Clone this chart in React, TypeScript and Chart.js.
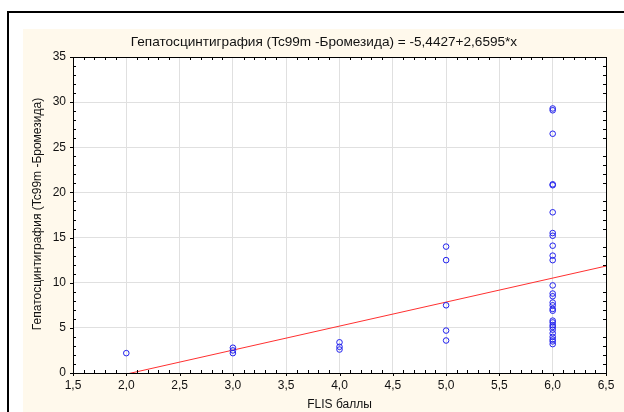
import React, { useEffect, useRef } from "react";
import { Chart, registerables } from "chart.js";

Chart.register(...registerables);

// ---- Data ----
const titleText = "Гепатосцинтиграфия (Tc99m -Бромезида) = -5,4427+2,6595*x";
const xAxisTitle = "FLIS баллы";
const yAxisTitle = "Гепатосцинтиграфия (Tc99m -Бромезида)";

const flisScores = [2, 3, 4, 5, 6];
const valuesAt2 = [2.2];
const valuesAt3 = [2.8, 2.5, 2.2];
const valuesAt4 = [3.4, 2.9, 2.6];
const valuesAt5 = [14.0, 12.5, 7.5, 4.7, 3.6];
const valuesAt6 = [
  29.3, 29.1, 26.5, 20.9, 20.8, 17.8, 15.5, 15.2, 14.1, 13.0, 12.5, 9.7, 8.8, 8.5,
  7.8, 7.5, 7.1, 6.9, 5.8, 5.6, 5.3, 5.1, 4.8, 4.4, 4.0, 3.7, 3.5, 3.2,
];
const valueGroups = [valuesAt2, valuesAt3, valuesAt4, valuesAt5, valuesAt6];

const regIntercept = -5.4427;
const regSlope = 2.6595;

const xMin = 1.5;
const xMax = 6.5;
const xStep = 0.5;
const yMin = 0;
const yMax = 35;
const yStep = 5;

const FONT = "Liberation Sans, Arial, sans-serif";
const fmt = (v: number) => v.toFixed(1).replace(".", ",");

const framePlugin = {
  id: "frame",
  beforeDraw(chart: any) {
    const { ctx, chartArea, width, height } = chart;
    ctx.save();
    ctx.fillStyle = "#ffffff";
    ctx.fillRect(0, 0, width, height);
    ctx.fillStyle = "#fff9ec";
    ctx.fillRect(23, 29, width - 23, height - 29);
    ctx.strokeStyle = "#000";
    ctx.lineWidth = 2;
    ctx.beginPath();
    ctx.moveTo(8, height);
    ctx.lineTo(8, 12);
    ctx.lineTo(width, 12);
    ctx.stroke();
    ctx.fillStyle = "#ffffff";
    ctx.fillRect(chartArea.left, chartArea.top, chartArea.right - chartArea.left, chartArea.bottom - chartArea.top);
    // titles
    ctx.fillStyle = "#111";
    ctx.textAlign = "center";
    ctx.textBaseline = "middle";
    ctx.font = `13.6px ${FONT}`;
    ctx.fillText(titleText, 324, 42);
    ctx.font = `12px ${FONT}`;
    ctx.translate(38, 214);
    ctx.rotate(-Math.PI / 2);
    ctx.fillText(yAxisTitle, 0, 0);
    ctx.restore();
  },
  afterDraw(chart: any) {
    const { ctx, chartArea } = chart;
    const xs = chart.scales.x;
    const ys = chart.scales.y;
    const { left, right, top, bottom } = chartArea;
    ctx.save();
    ctx.strokeStyle = "#000";
    ctx.lineWidth = 1;
    ctx.strokeRect(Math.round(left) + 0.5, Math.round(top) + 0.5, Math.round(right - left), Math.round(bottom - top));
    ctx.beginPath();
    for (let i = 0; i <= Math.round((xMax - xMin) / 0.1); i++) {
      const v = xMin + i * 0.1;
      const px = Math.round(xs.getPixelForValue(v)) + 0.5;
      if (i % 5 === 0) {
        ctx.moveTo(px, bottom);
        ctx.lineTo(px, bottom + 3);
      } else {
        ctx.moveTo(px, bottom);
        ctx.lineTo(px, bottom - 3);
        ctx.moveTo(px, top);
        ctx.lineTo(px, top + 3);
      }
    }
    for (let v = yMin; v <= yMax; v += 1) {
      const py = Math.round(ys.getPixelForValue(v)) + 0.5;
      if (v % 5 === 0) {
        ctx.moveTo(left, py);
        ctx.lineTo(left - 3, py);
      } else {
        ctx.moveTo(left, py);
        ctx.lineTo(left + 3, py);
        ctx.moveTo(right, py);
        ctx.lineTo(right - 3, py);
      }
    }
    ctx.stroke();
    ctx.restore();
  },
};

export default function App() {
  const ref = useRef<HTMLCanvasElement | null>(null);

  useEffect(() => {
    document.body.style.margin = "0";
    const canvas = ref.current;
    if (!canvas) return;

    const points: { x: number; y: number }[] = [];
    flisScores.forEach((x, i) => {
      valueGroups[i].forEach((y) => points.push({ x, y }));
    });
    const linePoints = [
      { x: xMin, y: regIntercept + regSlope * xMin },
      { x: xMax, y: regIntercept + regSlope * xMax },
    ];

    const chart = new Chart(canvas, {
      type: "scatter",
      data: {
        datasets: [
          {
            type: "line",
            data: linePoints,
            borderColor: "#ff3030",
            borderWidth: 1,
            pointRadius: 0,
            fill: false,
            order: 2,
          } as any,
          {
            data: points,
            pointStyle: "circle",
            pointRadius: 2.8,
            pointBorderWidth: 1,
            borderColor: "#2222ee",
            backgroundColor: "rgba(0,0,0,0)",
            order: 1,
          },
        ],
      },
      options: {
        animation: false,
        responsive: false,
        devicePixelRatio: 1,
        layout: { padding: { left: 23, right: 18, top: 57, bottom: 0 } },
        plugins: {
          legend: { display: false },
          tooltip: { enabled: false },
          title: { display: false },
        },
        scales: {
          x: {
            type: "linear",
            min: xMin,
            max: xMax,
            ticks: {
              stepSize: xStep,
              callback: (v: any) => fmt(Number(v)),
              color: "#111",
              font: { family: FONT, size: 12 },
              padding: 5,
              maxRotation: 0,
            },
            grid: { color: "#e0e0e0", drawTicks: false },
            border: { display: false },
            title: {
              display: true,
              text: xAxisTitle,
              color: "#111",
              font: { family: FONT, size: 12 },
              padding: { top: 0, bottom: 0 },
            },
            afterFit: (s: any) => {
              s.height = 39;
            },
          },
          y: {
            type: "linear",
            min: yMin,
            max: yMax,
            ticks: {
              stepSize: yStep,
              color: "#111",
              font: { family: FONT, size: 12 },
              padding: 7,
            },
            grid: { color: "#e0e0e0", drawTicks: false },
            border: { display: false },
            title: { display: false },
            afterFit: (s: any) => {
              s.width = 50;
            },
          },
        },
      },
      plugins: [framePlugin],
    });

    return () => chart.destroy();
  }, []);

  return <canvas ref={ref} width={624} height={412} style={{ display: "block" }} />;
}
